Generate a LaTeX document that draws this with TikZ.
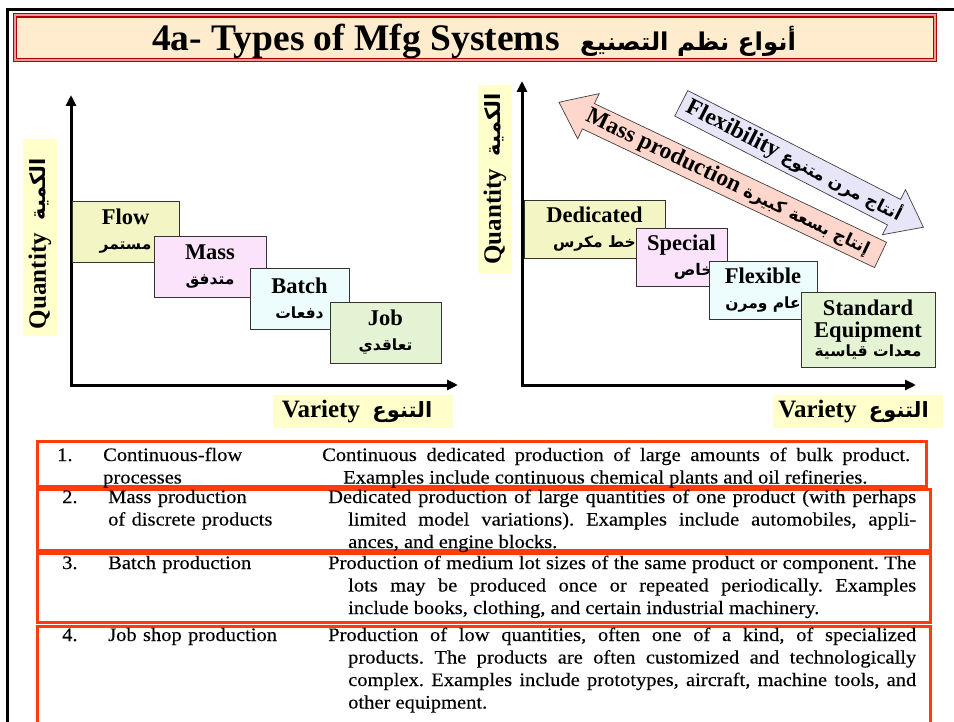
\documentclass[tikz,border=0pt]{standalone}
\usepackage{fontspec}
\setmainfont{Liberation Serif}
\newfontfamily\arabicfont[Script=Arabic]{DejaVu Sans}
\newfontfamily\scanfont[FakeStretch=1.08,FakeBold=0.3]{Liberation Serif}
\TeXXeTstate=1
\usetikzlibrary{arrows.meta,shapes.arrows,positioning}
\definecolor{peach}{HTML}{FFEBCD}
\definecolor{ttlred}{HTML}{B00000}
\definecolor{ttlpink}{HTML}{E89A9A}
\definecolor{labyel}{HTML}{FFFFCC}
\definecolor{flowyel}{HTML}{F3F6C4}
\definecolor{masspink}{HTML}{FCE3FC}
\definecolor{batchcyan}{HTML}{EDFDFD}
\definecolor{jobgreen}{HTML}{E3F3D3}
\definecolor{massfill}{HTML}{FFD6CC}
\definecolor{flexfill}{HTML}{E6E6F8}
\definecolor{rowred}{HTML}{FF3C0A}
% Arabic words, bold, right to left, at a given size
\newcommand{\arb}[2][15.5]{{\arabicfont\bfseries\fontsize{#1}{25}\selectfont\beginR #2\endR}}
\begin{document}
\begin{tikzpicture}
  [x=1pt,y=-1pt,
   stage/.style={draw=black!80,line width=0.8pt,inner sep=0pt,align=center,
     font=\bfseries\fontsize{22.5}{25}\selectfont},
   axlabel/.style={fill=labyel,inner sep=0pt,font=\bfseries\fontsize{25}{25}\selectfont},
   axis/.style={line width=3pt,arrows={Triangle[length=11pt,width=10pt]-Triangle[length=11pt,width=10pt]}},
   bigarrow/.style={single arrow,draw=black!75,line width=0.7pt,inner xsep=0pt,inner ysep=3pt,
     single arrow head extend=11pt,single arrow tip angle=75,
     font=\bfseries\fontsize{23.5}{23.5}\selectfont},
   rowbox/.style={draw=rowred,line width=3pt},
   cell/.style={inner sep=0pt,anchor=base west,align=left,
     font=\scanfont\fontsize{19}{22.5}\selectfont\frenchspacing},
   kind/.style={cell,text width=215pt},
   desc/.style={cell,text width=588pt,align=justify}]
  \useasboundingbox (0,0) rectangle (954,722);
  % frame and title
  \draw[line width=2.5pt] (954,9.5) -| (7.5,722);
  \draw[fill=peach,draw=ttlred,line width=1.2pt,double=ttlpink,double distance=2pt]
    (15,15.5) rectangle (935,60);
  \node[anchor=base west,inner sep=0pt,font=\bfseries\fontsize{37.5}{37.5}\selectfont]
    (ttlEn) at (152,51) {4a- Types of Mfg Systems};
  \node[base right=20pt of ttlEn,inner sep=0pt] (ttlAr) {\arb[24.5]{أنواع نظم التصنيع}};

  % left chart
  \coordinate (qtop1) at (71,95);
  \coordinate (vend1) at (458,385);
  \draw[axis] (qtop1) |- (vend1);
  \node[axlabel,rotate=90,minimum width=197pt,minimum height=34pt] (qty1) at (40,237.5)
    {Quantity\enspace\arb[21]{الكمية}\hspace*{12pt}};
  \node[axlabel,minimum width=180pt,minimum height=33pt] (var1) at (363,411.5)
    {Variety\enspace\arb[21]{التنوع}\hspace*{12pt}};
  \node[stage,fill=flowyel,minimum width=107pt,minimum height=61pt] (flow) at (125.5,231.5) {Flow\\\arb{مستمر}};
  \node[stage,fill=masspink,minimum width=112pt,minimum height=61pt] (mass) at (210,266.5) {Mass\\\arb{متدفق}};
  \node[stage,fill=batchcyan,minimum width=99pt,minimum height=61pt] (batch) at (299.5,298.5) {Batch\\\arb{دفعات}};
  \node[stage,fill=jobgreen,minimum width=111pt,minimum height=61pt] (job) at (385.5,332.5) {Job\\\arb{تعاقدي}};

  % right chart
  \coordinate (qtop2) at (522,81);
  \coordinate (vend2) at (916,385);
  \draw[axis] (qtop2) |- (vend2);
  \node[axlabel,rotate=90,minimum width=188pt,minimum height=34pt] (qty2) at (495,179)
    {Quantity\enspace\arb[21]{الكمية}};
  \node[axlabel,minimum width=170pt,minimum height=33pt] (var2) at (858,411.5)
    {Variety\enspace\arb[21]{التنوع}\hspace*{9pt}};
  \node[bigarrow,fill=massfill,shape border rotate=180,rotate=-25.4,minimum height=356pt]
    (massprod) at (728,182.5) {Mass production \arb[17]{إنتاج بسعة كبيرة}};
  \node[bigarrow,fill=flexfill,rotate=-27.1,minimum height=272pt]
    (flexprod) at (794,161) {Flexibility \arb[17]{أنتاج مرن متنوع}};
  \node[stage,fill=flowyel,minimum width=141pt,minimum height=58pt] (ded) at (594.5,229) {Dedicated\\\arb{خط مكرس}};
  \node[stage,fill=masspink,minimum width=91pt,minimum height=58pt] (spec) at (681.5,257) {Special\\\hspace*{24pt}\arb[16]{خاص}};
  \node[stage,fill=batchcyan,minimum width=108pt,minimum height=58pt] (flex) at (763,290) {Flexible\\\arb{عام ومرن}};
  \node[stage,fill=jobgreen,minimum width=134pt,minimum height=75pt] (std) at (868,329.5)
    {Standard\\[-3pt]Equipment\\[-6pt]\arb{معدات قياسية}};

  % table of systems
  \draw[rowbox] (37,441) rectangle (926,486);
  \draw[rowbox] (37,489) rectangle (930,550);
  \draw[rowbox] (37,553) rectangle (930,622);
  \draw[rowbox] (37,626) rectangle (930,730);
  \node[cell] (num1) at (57,461) {1.};
  \node[kind] (kind1) at (103,461) {Continuous-flow\\processes};
  \node[desc] (desc1) at (322,461) {\hangindent=21pt\hangafter=1
    Continuous dedicated production of large amounts of bulk product.\linebreak
    Examples include continuous chemical plants and oil refineries.\par};
  \node[cell] (num2) at (62,503) {2.};
  \node[kind] (kind2) at (108,503) {Mass production\\of discrete products};
  \node[desc] (desc2) at (328,503) {\hangindent=20pt\hangafter=1
    Dedicated production of large quantities of one product (with perhaps\linebreak
    limited model variations). Examples include automobiles, appli-\linebreak
    ances, and engine blocks.\par};
  \node[cell] (num3) at (62,569) {3.};
  \node[kind] (kind3) at (108,569) {Batch production};
  \node[desc] (desc3) at (328,569) {\hangindent=20pt\hangafter=1
    Production of medium lot sizes of the same product or component. The\linebreak
    lots may be produced once or repeated periodically. Examples\linebreak
    include books, clothing, and certain industrial machinery.\par};
  \node[cell] (num4) at (62,641) {4.};
  \node[kind] (kind4) at (108,641) {Job shop production};
  \node[desc] (desc4) at (328,641) {\hangindent=20pt\hangafter=1
    Production of low quantities, often one of a kind, of specialized\linebreak
    products. The products are often customized and technologically\linebreak
    complex. Examples include prototypes, aircraft, machine tools, and\linebreak
    other equipment.\par};
\end{tikzpicture}
\end{document}
